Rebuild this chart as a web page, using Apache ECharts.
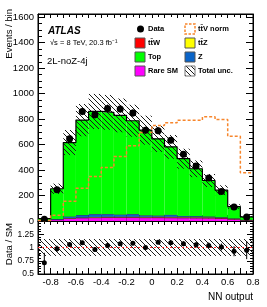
<!DOCTYPE html>
<html><head><meta charset="utf-8">
<script src="https://cdn.jsdelivr.net/npm/echarts@6/dist/echarts.min.js"></script>
<style>html,body{margin:0;padding:0;background:#fff}#c{width:267px;height:307px}</style>
</head><body><div id="c"></div>
<script>
// ---- data ----
const edges = [-0.9,-0.8,-0.7,-0.6,-0.5,-0.4,-0.3,-0.2,-0.1,0,0.1,0.2,0.3,0.4,0.5,0.6,0.7,0.8];
const rareSM = [2, 10, 20, 24, 26, 27, 27, 27, 26, 26, 25, 24, 23, 22, 20, 14, 6];
const ttW    = [0, 1, 2, 3, 3, 4, 4, 4, 4, 5, 5, 5, 5, 5, 4, 3, 2];
const ttZ    = [0, 1, 2, 2, 3, 3, 3, 3, 3, 3, 3, 3, 3, 3, 2, 2, 1];
const zJets  = [1, 4, 12, 18, 22, 20, 18, 20, 12, 10, 16, 8, 8, 6, 4, 2, 1];
const topBkg = [15, 237, 580, 745, 806, 799, 777, 733, 668, 601, 533, 449, 371, 282, 212, 92, 22];
const dataVals = [13, 245, 645, 860, 834, 884, 879, 847, 713, 708, 634, 524, 432, 337, 232, 110, 32];
const dataErr  = [4, 16, 25, 29, 29, 30, 30, 29, 27, 27, 25, 23, 21, 18, 15, 10, 6];
const ttVnorm  = [3, 46, 156, 257, 349, 420, 507, 591, 695, 749, 771, 791, 791, 818, 797, 665, 378];
const totUnc   = [0.16, 0.16, 0.16, 0.16, 0.16, 0.16, 0.16, 0.16, 0.16, 0.16, 0.16, 0.16, 0.16, 0.16, 0.16, 0.16, 0.16];
const ratioVals = [0.71, 0.975, 1.055, 1.09, 0.96, 1.04, 1.07, 1.08, 1.0, 1.10, 1.09, 1.07, 1.05, 1.04, 1.01, 0.93, 0.95];
const ratioErr  = [0.19, 0.06, 0.04, 0.035, 0.035, 0.035, 0.035, 0.035, 0.04, 0.04, 0.04, 0.045, 0.05, 0.055, 0.065, 0.095, 0.17];
const xTickLabels = [-0.8, -0.6, -0.4, -0.2, 0, 0.2, 0.4, 0.6, 0.8];
const mainTickLabels = [0, 200, 400, 600, 800, 1000, 1200, 1400, 1600];
const ratioTickLabels = [0.5, 0.75, 1, 1.25];

// ---- helpers ----
const nb = topBkg.length;
const components = [
  {name:'Rare SM', vals: rareSM, color:'#ff00ff'},
  {name:'ttW', vals: ttW, color:'#ff0000'},
  {name:'ttZ', vals: ttZ, color:'#ffff00'},
  {name:'Z', vals: zJets, color:'#0a64c8'},
  {name:'Top', vals: topBkg, color:'#00ff00'}
];
const cum = new Array(nb).fill(0);
const stackSeries = components.map((c, k) => {
  const items = [];
  for (let i = 0; i < nb; i++) {
    const y0 = cum[i];
    const y1 = y0 + c.vals[i];
    cum[i] = y1;
    items.push([edges[i], edges[i+1], y0, y1]);
  }
  return {
    type:'custom', name:c.name, xAxisIndex:0, yAxisIndex:0, z:1, clip:true,
    encode:{x:[0,1], y:[2,3]}, data: items,
    renderItem: (params, api) => {
      const p0 = api.coord([api.value(0), api.value(3)]);
      const p1 = api.coord([api.value(1), api.value(2)]);
      const children = [{type:'rect', shape:{x:p0[0], y:p0[1], width:p1[0]-p0[0], height:p1[1]-p0[1]}, style:{fill:c.color}}];
      if (k < components.length - 1) {
        children.push({type:'line', shape:{x1:p0[0], y1:p0[1], x2:p1[0], y2:p0[1]}, style:{stroke:'#333', lineWidth:0.8}});
      }
      return {type:'group', children};
    }
  };
});
const total = cum.slice();

function hatch(color, size) {
  const c = document.createElement('canvas');
  c.width = size; c.height = size;
  const g = c.getContext('2d');
  g.strokeStyle = color; g.lineWidth = 1;
  g.beginPath();
  g.moveTo(-1, -1); g.lineTo(size + 1, size + 1);
  g.moveTo(-1, size - 1); g.lineTo(1, size + 1);
  g.moveTo(size - 1, -1); g.lineTo(size + 1, 1);
  g.stroke();
  return c;
}
const hatchImg = hatch('#1a1a1a', 5);
const hatchFill = {image: hatchImg, repeat: 'repeat'};

function bandSeries(xi, yi, lows, highs) {
  const items = [];
  for (let i = 0; i < nb; i++) items.push([edges[i], edges[i+1], lows[i], highs[i]]);
  return {
    type:'custom', xAxisIndex:xi, yAxisIndex:yi, z:2, clip:true,
    encode:{x:[0,1], y:[2,3]}, data: items, silent:true,
    renderItem: (params, api) => {
      const p0 = api.coord([api.value(0), api.value(3)]);
      const p1 = api.coord([api.value(1), api.value(2)]);
      return {type:'rect', shape:{x:p0[0], y:p0[1], width:p1[0]-p0[0], height:p1[1]-p0[1]}, style:{fill:hatchFill}};
    }
  };
}
function stepData(vals) {
  const d = [];
  for (let i = 0; i < nb; i++) d.push([edges[i], vals[i]]);
  d.push([edges[nb], vals[nb-1]]);
  return d;
}
function pointSeries(xi, yi, vals, errs, r) {
  const items = [];
  for (let i = 0; i < nb; i++) items.push([(edges[i] + edges[i+1]) / 2, vals[i], errs[i]]);
  return {
    type:'custom', xAxisIndex:xi, yAxisIndex:yi, z:6, clip:true,
    encode:{x:0, y:1}, data: items,
    renderItem: (params, api) => {
      const x = api.value(0), y = api.value(1), e = api.value(2);
      const c = api.coord([x, y]);
      const t = api.coord([x, y + e]);
      const b = api.coord([x, y - e]);
      return {type:'group', children:[
        {type:'line', shape:{x1:c[0], y1:t[1], x2:c[0], y2:b[1]}, style:{stroke:'#000', lineWidth:1}},
        {type:'circle', shape:{cx:c[0], cy:c[1], r:r}, style:{fill:'#000'}}
      ]};
    }
  };
}

const FONT = 'Liberation Sans';
const plain = v => String(Math.round(v * 100) / 100);
function xAx(grid, pos, showLabels) {
  return {
    type:'value', gridIndex:grid, position:pos, min:-0.9, max:0.8, interval:0.1,
    axisLine:{show:true, onZero:false, lineStyle:{color:'#000'}},
    axisTick:{show:true, inside:true, length: pos === 'top' ? 4 : 6, lineStyle:{color:'#000'}},
    minorTick:{show:true, splitNumber:2, length:3, lineStyle:{color:'#000'}},
    splitLine:{show:false},
    axisLabel: showLabels ? {show:true, customValues:xTickLabels, formatter:plain, fontFamily:FONT, fontSize:9.5, color:'#000', margin:3} : {show:false}
  };
}
function yMain(pos, showLabels) {
  return {
    type:'value', gridIndex:0, position:pos, min:0, max:1625, interval:200,
    axisLine:{show:true, onZero:false, lineStyle:{color:'#000'}},
    axisTick:{show:true, inside:true, length:7, lineStyle:{color:'#000'}},
    minorTick:{show:true, splitNumber:4, length:4, lineStyle:{color:'#000'}},
    splitLine:{show:false},
    axisLabel: showLabels ? {show:true, customValues:mainTickLabels, formatter:plain, fontFamily:FONT, fontSize:9.5, color:'#000', margin:4} : {show:false}
  };
}
function yRatio(pos, showLabels) {
  return {
    type:'value', gridIndex:1, position:pos, min:0.5, max:1.5, interval:0.25,
    axisLine:{show:true, onZero:false, lineStyle:{color:'#000'}},
    axisTick:{show:true, inside:true, length:6, lineStyle:{color:'#000'}},
    minorTick:{show:true, splitNumber:5, length:3, lineStyle:{color:'#000'}},
    splitLine:{show:false},
    axisLabel: showLabels ? {show:true, customValues:ratioTickLabels, formatter:plain, fontFamily:FONT, fontSize:8.5, color:'#000', margin:4} : {show:false}
  };
}

// legend drawn as graphics
const legendTextStyle = {font:'bold 7.5px "Liberation Sans"', fill:'#000', verticalAlign:'middle'};
const rowsY = [29, 43, 57, 71];
const legendItems = [];
function lgText(x, y, t) { legendItems.push({type:'text', x:x, y:y, style:Object.assign({text:t}, legendTextStyle)}); }
function lgBox(x, y, fill, stroke, dash) {
  legendItems.push({type:'rect', shape:{x:x, y:y-5, width:10, height:10}, style:{fill:fill, stroke:stroke, lineWidth: dash ? 1.5 : 1, lineDash: dash || null}});
}
legendItems.push({type:'circle', shape:{cx:140.5, cy:rowsY[0], r:3.5}, style:{fill:'#000'}});
lgText(148, rowsY[0], 'Data');
lgBox(135, rowsY[1], '#ff0000', '#555');  lgText(148, rowsY[1], 't\u0074\u0304W');
lgBox(135, rowsY[2], '#00ff00', '#555');  lgText(148, rowsY[2], 'Top');
lgBox(135, rowsY[3], '#ff00ff', '#555');  lgText(148, rowsY[3], 'Rare SM');
lgBox(185, rowsY[0], '#fff', '#f7862c', [2.5, 1.5]); lgText(198, rowsY[0], 't\u0074\u0304V norm');
lgBox(185, rowsY[1], '#ffff00', '#555');  lgText(198, rowsY[1], 't\u0074\u0304Z');
lgBox(185, rowsY[2], '#0a64c8', '#555');  lgText(198, rowsY[2], 'Z');
lgBox(185, rowsY[3], hatchFill, '#777');  lgText(198, rowsY[3], 'Total unc.');

const chart = echarts.init(document.getElementById('c'), null, {renderer:'canvas'});
chart.setOption({
  animation:false,
  backgroundColor:'#fff',
  grid:[
    {left:38, right:14, top:14, height:207, show:true, borderColor:'#000', borderWidth:1, backgroundColor:'transparent'},
    {left:38, right:14, top:221, height:53, show:true, borderColor:'#000', borderWidth:1, backgroundColor:'transparent'}
  ],
  xAxis:[xAx(0,'bottom',false), xAx(0,'top',false), xAx(1,'bottom',true), xAx(1,'top',false)],
  yAxis:[yMain('left',true), yMain('right',false), yRatio('left',true), yRatio('right',false)],
  series:[
    ...stackSeries,
    bandSeries(0, 0, total.map((t,i) => t*(1-totUnc[i])), total.map((t,i) => t*(1+totUnc[i]))),
    {type:'line', xAxisIndex:0, yAxisIndex:0, step:'end', symbol:'none', z:3, data:stepData(total),
     lineStyle:{color:'#000', width:1.2}, silent:true},
    {type:'line', name:'ttV norm', xAxisIndex:0, yAxisIndex:0, step:'end', symbol:'none', z:4, data:stepData(ttVnorm),
     lineStyle:{color:'#f7862c', width:1.5, type:[3,2]}, silent:true},
    pointSeries(0, 0, dataVals, dataErr, 3.5),
    bandSeries(2, 2, totUnc.map(u => 1-u), totUnc.map(u => 1+u)),
    {type:'line', xAxisIndex:2, yAxisIndex:2, symbol:'none', z:3, data:[[edges[0],1],[edges[nb],1]],
     lineStyle:{color:'#ff3030', width:1, type:[2,2]}, silent:true},
    pointSeries(2, 2, ratioVals, ratioErr, 2.5)
  ],
  graphic:[
    {type:'text', x:48, y:31, style:{text:'ATLAS', font:'italic bold 10px "Liberation Sans"', fill:'#000', verticalAlign:'middle'}},
    {type:'text', x:50, y:43, style:{text:'\u221As = 8 TeV, 20.3 fb\u207B\u00B9', font:'7.5px "Liberation Sans"', fill:'#000', verticalAlign:'middle'}},
    {type:'text', x:47, y:61, style:{text:'2L-noZ-4j', font:'9.5px "Liberation Sans"', fill:'#000', verticalAlign:'middle'}},
    {type:'text', x:9, y:9, rotation:Math.PI/2, style:{text:'Events / bin', font:'9.5px "Liberation Sans"', fill:'#000', align:'right', verticalAlign:'middle'}},
    {type:'text', x:9, y:223, rotation:Math.PI/2, style:{text:'Data / SM', font:'9.5px "Liberation Sans"', fill:'#000', align:'right', verticalAlign:'middle'}},
    {type:'text', x:253, y:297, style:{text:'NN output', font:'10px "Liberation Sans"', fill:'#000', align:'right', verticalAlign:'middle'}},
    ...legendItems
  ]
});
</script></body></html>
